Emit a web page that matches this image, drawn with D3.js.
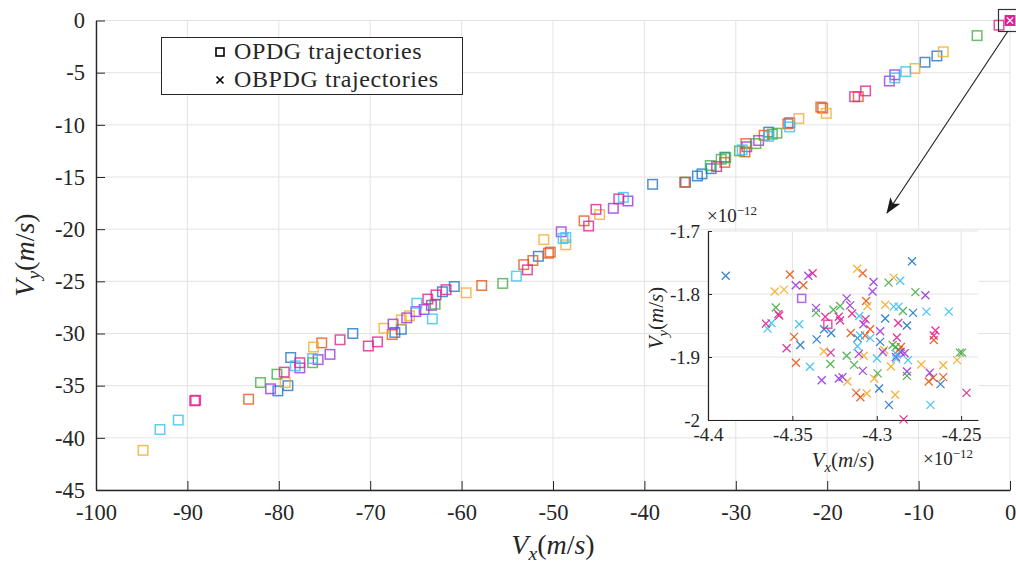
<!DOCTYPE html>
<html>
<head>
  <meta charset="utf-8">
  <title>OPDG / OBPDG trajectories</title>
  <script src="https://d3js.org/d3.v7.min.js"></script>
  <style>
    body { margin: 0; background: #fff; }
    svg, svg text { font-family: "Liberation Serif", "Times New Roman", serif; }
    .grid line { stroke: #e3e3e3; stroke-width: 1; }
    .axis path, .axis line { stroke: #262626; }
    .axis text { fill: #262626; }
  </style>
</head>
<body>
  <div id="chart"></div>
  <script>
    // colours of the seven runs
    var colors = ["#2176c7", "#e5561b", "#f2ae2a", "#9b36e0", "#46ad46", "#38c0f0", "#e0208f"];

    var xTicks = [-100, -90, -80, -70, -60, -50, -40, -30, -20, -10, 0];
    var yTicks = [0, -5, -10, -15, -20, -25, -30, -35, -40, -45];
    var xTicksInset = [-4.4, -4.35, -4.3, -4.25];
    var yTicksInset = [-1.7, -1.8, -1.9, -2];

    // OPDG end velocities (m/s), one array per run
    var sqBlue = [[-80.1,-35.5],[-79.0,-35.0],[-78.7,-32.3],[-71.9,-30.0],[-67.3,-29.9],[-66.6,-29.6],[-62.1,-26.0],[-60.8,-25.5],[-51.6,-22.6],[-39.1,-15.7],[-35.5,-15.5],[-34.2,-14.9],[-33.7,-14.7],[-32.7,-14.2],[-31.2,-13.1],[-26.4,-10.7],[-24.1,-9.8],[-9.3,-4.0],[-8.0,-3.4]];
    var sqOrange = [[-83.3,-36.3],[-75.3,-30.9],[-67.6,-30.1],[-57.8,-25.4],[-53.2,-23.4],[-52.2,-23.0],[-50.5,-22.3],[-50.3,-22.2],[-46.6,-19.2],[-35.6,-15.5],[-31.2,-13.6],[-29.0,-12.6],[-28.9,-11.8],[-26.9,-11.0],[-24.3,-9.9],[-20.5,-8.4],[-20.7,-8.3],[-16.6,-7.3]];
    var sqYellow = [[-94.85,-41.2],[-79.3,-34.7],[-76.2,-31.3],[-68.5,-29.5],[-66.6,-28.7],[-65.7,-28.3],[-59.5,-26.1],[-51.0,-21.0],[-48.6,-21.5],[-44.9,-18.6],[-23.1,-9.4],[-20.1,-8.9],[-10.4,-4.6],[-7.3,-3.0]];
    var sqPurple = [[-80.9,-35.3],[-77.7,-33.3],[-75.7,-32.5],[-74.4,-32.0],[-67.5,-29.1],[-66.0,-28.5],[-65.0,-27.9],[-64.1,-27.7],[-63.3,-27.3],[-49.1,-20.25],[-43.4,-18.0],[-41.8,-17.3],[-28.8,-12.1],[-27.5,-11.5],[-13.2,-5.8],[-12.6,-5.2]];
    var sqGreen = [[-82.0,-34.7],[-80.2,-33.9],[-76.3,-32.8],[-62.9,-27.2],[-55.5,-25.2],[-32.8,-13.9],[-31.6,-13.3],[-31.1,-13.15],[-29.6,-12.5],[-27.8,-11.8],[-26.0,-10.9],[-25.5,-10.8],[-3.6,-1.45]];
    var sqCyan = [[-93.0,-39.2],[-91.0,-38.3],[-78.2,-33.1],[-76.3,-32.4],[-64.9,-27.1],[-63.2,-28.6],[-54.0,-24.5],[-48.9,-20.9],[-48.6,-20.8],[-42.3,-16.95],[-29.3,-12.4],[-26.4,-11.1],[-24.1,-10.2],[-12.6,-5.5],[-11.4,-4.9]];
    var sqMagenta = [[-89.2,-36.45],[-89.1,-36.4],[-79.4,-33.7],[-77.7,-32.8],[-73.3,-30.6],[-70.2,-31.2],[-69.2,-30.8],[-63.7,-26.7],[-62.8,-26.3],[-61.7,-25.8],[-52.8,-23.9],[-46.1,-19.7],[-45.3,-18.1],[-42.8,-17.1],[-32.1,-14.0],[-17.0,-7.3],[-15.8,-6.75],[-1.2,-0.45]];
    // the two OPDG runs that reach the origin (x 1e-12 m/s)
    var sqInsetPurple = [[-4.3445,-1.807]];
    var sqInsetMagenta = [[-4.329,-1.848]];

    // OBPDG end velocities (x 1e-12 m/s)
    var xBlue = [[-4.3895,-1.771],[-4.3453,-1.881],[-4.3312,-1.856],[-4.327,-1.862],[-4.3356,-1.872],[-4.3114,-1.870],[-4.298,-1.876],[-4.2986,-1.950],[-4.295,-1.839],[-4.2928,-1.976],[-4.2821,-1.850],[-4.2791,-1.748],[-4.2785,-1.830],[-4.2622,-1.943]];
    var xOrange = [[-4.3515,-1.769],[-4.3435,-1.786],[-4.349,-1.868],[-4.3479,-1.909],[-4.3154,-1.862],[-4.3083,-1.767],[-4.3063,-1.811],[-4.3069,-1.866],[-4.3039,-1.856],[-4.3122,-1.957],[-4.3097,-1.964],[-4.2871,-1.889],[-4.2857,-1.884],[-4.2692,-1.939],[-4.2666,-1.933],[-4.2662,-1.873],[-4.2606,-1.932]];
    var xYellow = [[-4.3604,-1.796],[-4.355,-1.793],[-4.3314,-1.891],[-4.3174,-1.939],[-4.3116,-1.760],[-4.3055,-1.819],[-4.3077,-1.898],[-4.3059,-1.958],[-4.3015,-1.934],[-4.295,-1.817],[-4.2956,-1.889],[-4.2916,-1.915],[-4.29,-1.774],[-4.2891,-1.960],[-4.2736,-1.912],[-4.2606,-1.913],[-4.2524,-1.905]];
    var xPurple = [[-4.3406,-1.771],[-4.348,-1.786],[-4.336,-1.822],[-4.3326,-1.937],[-4.3178,-1.807],[-4.3158,-1.818],[-4.3225,-1.934],[-4.3203,-1.932],[-4.3019,-1.781],[-4.3025,-1.796],[-4.3079,-1.848],[-4.3106,-1.895],[-4.3083,-1.922],[-4.298,-1.859],[-4.2964,-1.892],[-4.2886,-1.900],[-4.2859,-1.892],[-4.2835,-1.894],[-4.2821,-1.923],[-4.2712,-1.802],[-4.2686,-1.925]];
    var xGreen = [[-4.3598,-1.8215],[-4.336,-1.830],[-4.3275,-1.911],[-4.3257,-1.825],[-4.3217,-1.819],[-4.3178,-1.898],[-4.3134,-1.9125],[-4.2995,-1.926],[-4.293,-1.782],[-4.2845,-1.827],[-4.2906,-1.881],[-4.2888,-1.884],[-4.2821,-1.930],[-4.2771,-1.797],[-4.2508,-1.893],[-4.2494,-1.893]];
    var xCyan = [[-4.3647,-1.855],[-4.3624,-1.846],[-4.346,-1.848],[-4.3396,-1.9155],[-4.3104,-1.835],[-4.3099,-1.866],[-4.3039,-1.870],[-4.3114,-1.883],[-4.2999,-1.902],[-4.29,-1.820],[-4.287,-1.820],[-4.2861,-1.779],[-4.2881,-1.896],[-4.2884,-1.903],[-4.2815,-1.905],[-4.2706,-1.828],[-4.2682,-1.976],[-4.2573,-1.828]];
    var xMagenta = [[-4.338,-1.767],[-4.3584,-1.832],[-4.3578,-1.834],[-4.3657,-1.847],[-4.3534,-1.886],[-4.3305,-1.836],[-4.3273,-1.893],[-4.3225,-1.836],[-4.3217,-1.842],[-4.3146,-1.831],[-4.3067,-1.840],[-4.2873,-1.846],[-4.2881,-1.869],[-4.2841,-1.999],[-4.2662,-1.866],[-4.2652,-1.858],[-4.2468,-1.957]];

    var squareSets = [sqBlue, sqOrange, sqYellow, sqPurple, sqGreen, sqCyan, sqMagenta];
    var crossSets = [xBlue, xOrange, xYellow, xPurple, xGreen, xCyan, xMagenta];
    var insetSquares = [{ c: 3, pts: sqInsetPurple }, { c: 6, pts: sqInsetMagenta }];

    var serif = "'Liberation Serif', 'Times New Roman', serif";
    var width = 1016, height = 563;
    var svg = d3.select("#chart").append("svg")
      .attr("width", width).attr("height", height);

    // ---------- main axes ----------
    var x = d3.scaleLinear().domain([-100, 0]).range([96, 1010]);
    var y = d3.scaleLinear().domain([-45, 0]).range([490, 20.5]);

    var grid = svg.append("g").attr("class", "grid");
    grid.selectAll(".gx").data(xTicks).enter().append("line")
      .attr("x1", function(d) { return x(d); }).attr("x2", function(d) { return x(d); })
      .attr("y1", y(-45)).attr("y2", y(0));
    grid.selectAll(".gy").data(yTicks).enter().append("line")
      .attr("y1", function(d) { return y(d); }).attr("y2", function(d) { return y(d); })
      .attr("x1", x(-100)).attr("x2", x(0));

    svg.append("g").attr("class", "axis")
      .attr("transform", "translate(0," + y(-45) + ")")
      .call(d3.axisBottom(x).tickValues(xTicks).tickSize(-9).tickSizeOuter(0).tickPadding(14)
        .tickFormat(function(d) { return d; }));
    svg.append("g").attr("class", "axis")
      .attr("transform", "translate(" + x(-100) + ",0)")
      .call(d3.axisLeft(y).tickValues(yTicks).tickSize(-9).tickSizeOuter(0).tickPadding(11)
        .tickFormat(function(d) { return d; }));
    svg.selectAll(".axis").attr("font-family", serif).attr("font-size", 22.5);
    svg.selectAll(".axis .domain").attr("stroke-width", 1.4);

    function velLabel(g, sub, size) {
      var t = g.append("text").attr("fill", "#262626").style("font-size", size + "px");
      t.append("tspan").style("font-style", "italic").text("V");
      t.append("tspan").style("font-style", "italic").style("font-size", (size * 0.7) + "px")
        .attr("dy", size * 0.22).text(sub);
      t.append("tspan").attr("dy", -size * 0.22).text("(");
      t.append("tspan").style("font-style", "italic").text("m");
      t.append("tspan").text("/");
      t.append("tspan").style("font-style", "italic").text("s");
      t.append("tspan").text(")");
      return t;
    }

    velLabel(svg.append("g").attr("transform", "translate(553,554)"), "x", 28)
      .attr("text-anchor", "middle");
    velLabel(svg.append("g").attr("transform", "translate(34,255) rotate(-90)"), "y", 28)
      .attr("text-anchor", "middle");

    // ---------- markers ----------
    function drawSquares(g, pts, color, sx, sy, s, alpha) {
      g.selectAll(null).data(pts).enter().append("rect")
        .attr("x", function(d) { return sx(d[0]) - s / 2; })
        .attr("y", function(d) { return sy(d[1]) - s / 2; })
        .attr("width", s).attr("height", s)
        .attr("fill", "none").attr("stroke", color)
        .attr("stroke-width", 1.5).attr("stroke-opacity", alpha);
    }
    function drawCrosses(g, pts, color, sx, sy, s, alpha) {
      g.selectAll(null).data(pts).enter().append("path")
        .attr("d", function(d) {
          var cx = sx(d[0]), cy = sy(d[1]);
          return "M" + (cx - s) + "," + (cy - s) + "L" + (cx + s) + "," + (cy + s) +
                 "M" + (cx - s) + "," + (cy + s) + "L" + (cx + s) + "," + (cy - s);
        })
        .attr("fill", "none").attr("stroke", color)
        .attr("stroke-width", 1.3).attr("stroke-opacity", alpha);
    }

    var marks = svg.append("g");
    squareSets.forEach(function(pts, i) {
      drawSquares(marks, pts, colors[i], x, y, 9.5, 0.8);
    });
    // everything near 1e-12 sits on the origin of the main axes
    var toOrigin = function() { return x(0); };
    var toOriginY = function() { return y(0); };
    crossSets.forEach(function(pts, i) {
      drawCrosses(marks, pts, colors[i], toOrigin, toOriginY, 4, 1);
    });
    insetSquares.forEach(function(s) {
      drawSquares(marks, s.pts, colors[s.c], toOrigin, toOriginY, 9, 1);
    });
    marks.append("rect").attr("x", x(0) - 5).attr("y", y(0) - 5).attr("width", 10).attr("height", 10)
      .attr("fill", colors[6]);
    drawCrosses(marks, [[0, 0]], "#fff", x, y, 3.2, 0.9);

    // zoom box and arrow
    svg.append("rect").attr("x", 998.5).attr("y", 9.5).attr("width", 30).attr("height", 22)
      .attr("fill", "none").attr("stroke", "#333").attr("stroke-width", 1.2);
    var defs = svg.append("defs");
    defs.append("marker").attr("id", "head").attr("viewBox", "0 0 16 12")
      .attr("refX", 15).attr("refY", 6).attr("markerWidth", 16).attr("markerHeight", 12)
      .attr("markerUnits", "userSpaceOnUse").attr("orient", "auto")
      .append("path").attr("d", "M0,0 L16,6 L0,12 L4,6 Z").attr("fill", "#1a1a1a");
    svg.append("line").attr("x1", 1008).attr("y1", 31).attr("x2", 887).attr("y2", 213)
      .attr("stroke", "#1a1a1a").attr("stroke-width", 1.1).attr("marker-end", "url(#head)");

    // ---------- legend ----------
    var leg = svg.append("g");
    leg.append("rect").attr("x", 161.5).attr("y", 37.5).attr("width", 301).attr("height", 57)
      .attr("fill", "#fff").attr("stroke", "#262626").attr("stroke-width", 1);
    leg.append("rect").attr("x", 216).attr("y", 48).attr("width", 8).attr("height", 8)
      .attr("fill", "none").attr("stroke", "#000").attr("stroke-width", 1.6);
    leg.append("path").attr("d", "M216.5,76.5L223.5,83.5M216.5,83.5L223.5,76.5")
      .attr("stroke", "#000").attr("stroke-width", 1.6);
    leg.append("text").attr("x", 234).attr("y", 59).attr("fill", "#262626")
      .style("font-size", "24px").style("letter-spacing", "0.6px").text("OPDG trajectories");
    leg.append("text").attr("x", 234).attr("y", 87).attr("fill", "#262626")
      .style("font-size", "24px").style("letter-spacing", "0.6px").text("OBPDG trajectories");

    // ---------- inset ----------
    var xi = d3.scaleLinear().domain([-4.4, -4.24]).range([708, 978]);
    var yi = d3.scaleLinear().domain([-2, -1.7]).range([420, 231]);
    var inset = svg.append("g");
    inset.append("rect").attr("x", 708).attr("y", 231).attr("width", 270).attr("height", 189)
      .attr("fill", "#fff");
    var ig = inset.append("g").attr("class", "grid");
    ig.selectAll(null).data(xTicksInset).enter().append("line")
      .attr("x1", function(d) { return xi(d); }).attr("x2", function(d) { return xi(d); })
      .attr("y1", yi(-2)).attr("y2", yi(-1.7));
    ig.selectAll(null).data(yTicksInset).enter().append("line")
      .attr("y1", function(d) { return yi(d); }).attr("y2", function(d) { return yi(d); })
      .attr("x1", xi(-4.4)).attr("x2", xi(-4.24));

    inset.append("g").attr("class", "axis inset-axis")
      .attr("transform", "translate(0," + yi(-2) + ")")
      .call(d3.axisBottom(xi).tickValues(xTicksInset).tickSize(-4).tickSizeOuter(0).tickPadding(8)
        .tickFormat(function(d) { return d; }));
    inset.append("g").attr("class", "axis inset-axis")
      .attr("transform", "translate(" + xi(-4.4) + ",0)")
      .call(d3.axisLeft(yi).tickValues(yTicksInset).tickSize(-4).tickSizeOuter(0).tickPadding(8)
        .tickFormat(function(d) { return d; }));
    inset.selectAll(".inset-axis").attr("font-family", serif).attr("font-size", 19);
    inset.selectAll(".axis .domain").attr("stroke-width", 1.2);

    var im = inset.append("g");
    crossSets.forEach(function(pts, i) {
      drawCrosses(im, pts, colors[i], xi, yi, 4, 0.9);
    });
    insetSquares.forEach(function(s) {
      drawSquares(im, s.pts, colors[s.c], xi, yi, 8, 0.75);
    });

    function expLabel(px, py) {
      var t = inset.append("text").attr("x", px).attr("y", py).attr("fill", "#262626")
        .style("font-size", "19px");
      t.append("tspan").text("\u00d710");
      t.append("tspan").attr("dy", -7).style("font-size", "13px").text("\u221212");
    }
    expLabel(707, 222);
    expLabel(923, 465);

    velLabel(inset.append("g").attr("transform", "translate(843,467)"), "x", 21)
      .attr("text-anchor", "middle");
    velLabel(inset.append("g").attr("transform", "translate(663,318) rotate(-90)"), "y", 21)
      .attr("text-anchor", "middle");
  </script>
</body>
</html>
